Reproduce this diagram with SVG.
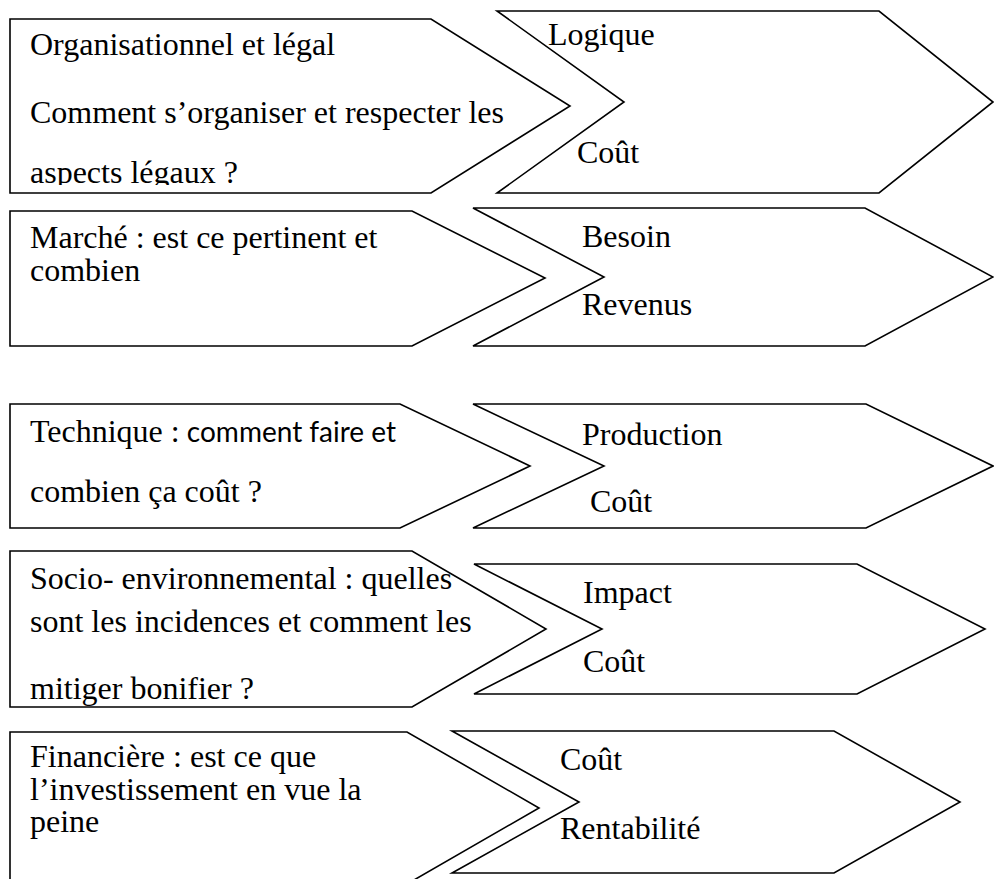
<svg xmlns="http://www.w3.org/2000/svg" width="994" height="879" viewBox="0 0 994 879">
<style>
.s{fill:#fff;stroke:#000;stroke-width:1.6;stroke-linejoin:miter}
.t{font-family:"Liberation Serif","Times New Roman",serif;font-size:32px;fill:#000}
.c{font-family:Lato,"Liberation Sans",sans-serif}
</style>
<defs>
<clipPath id="clip1"><rect x="10" y="19" width="600" height="166"/></clipPath>
</defs>
<rect width="994" height="879" fill="#fff"/>
<g id="connectors"></g>
<g id="n1">
<polygon class="s" points="10,19 431,19 570,106 431,193 10,193"/>
<g clip-path="url(#clip1)">
<text class="t" x="30" y="55">Organisationnel et légal</text>
<text class="t" x="30" y="123">Comment s’organiser et respecter les</text>
<text class="t" x="30" y="183">aspects légaux ?</text>
</g>
</g>
<g id="n1r">
<polygon class="s" points="497,11 879,11 993,102 879,193 497,193 624,102"/>
<text class="t" x="548" y="45">Logique</text>
<text class="t" x="577" y="163">Coût</text>
</g>
<g id="n2">
<polygon class="s" points="10,211 412,211 545,278 412,346 10,346"/>
<text class="t" x="30" y="248">Marché : est ce pertinent et</text>
<text class="t" x="30" y="281">combien</text>
</g>
<g id="n2r">
<polygon class="s" points="473,208 865,208 993,277 865,346 473,346 604,277"/>
<text class="t" x="582" y="247">Besoin</text>
<text class="t" x="582" y="315">Revenus</text>
</g>
<g id="n3">
<polygon class="s" points="10,404 400,404 530,466 400,528 10,528"/>
<text class="t" x="30" y="442">Technique :<tspan class="c" font-size="28"> comment faire et</tspan></text>
<text class="t" x="30" y="502">combien ça coût ?</text>
</g>
<g id="n3r">
<polygon class="s" points="473,404 866,404 993,466 866,528 473,528 604,466"/>
<text class="t" x="582" y="445">Production</text>
<text class="t" x="590" y="512">Coût</text>
</g>
<g id="n4">
<polygon class="s" points="10,551 412,551 546,629 412,707 10,707"/>
<text class="t" x="30" y="589">Socio- environnemental : quelles</text>
<text class="t" x="30" y="632">sont les incidences et comment les</text>
<text class="t" x="30" y="699">mitiger bonifier ?</text>
</g>
<g id="n4r">
<polygon class="s" points="474,564 857,564 985,629 857,694 474,694 602,629"/>
<text class="t" x="583" y="603">Impact</text>
<text class="t" x="583" y="672">Coût</text>
</g>
<g id="n5">
<polygon class="s" points="10,732 407,732 539,808 407,884 10,884"/>
<text class="t" x="30" y="767">Financière : est ce que</text>
<text class="t" x="30" y="800">l’investissement en vue la</text>
<text class="t" x="30" y="832">peine</text>
</g>
<g id="n5r">
<polygon class="s" points="452,731 834,731 960,802 834,873 452,873 579,802"/>
<text class="t" x="560" y="770">Coût</text>
<text class="t" x="560" y="839">Rentabilité</text>
</g>
</svg>
